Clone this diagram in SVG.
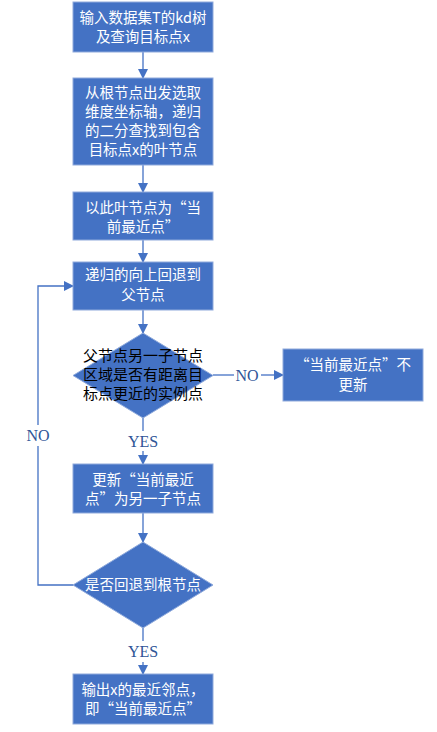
<svg xmlns="http://www.w3.org/2000/svg" width="437" height="732" viewBox="0 0 437 732">
<defs>
<marker id="ah" markerWidth="10" markerHeight="10" refX="9" refY="5" orient="auto" markerUnits="userSpaceOnUse">
<path d="M0,0 L10,5 L0,10 Z" fill="#4472C4"/>
</marker>
<style>
.box{fill:#4472C4;stroke:#8FAADC;stroke-width:1}
.t{font-family:"Noto Sans CJK SC","Microsoft YaHei",sans-serif;font-size:14.5px;fill:#FFFFFF;text-anchor:middle}
.tb{font-family:"Noto Sans CJK SC",sans-serif;font-size:15px;fill:#000000;text-anchor:middle}
.lbl{font-family:"Liberation Serif","Times New Roman",serif;font-size:16px;fill:#2F5597;text-anchor:middle}
.c{fill:none;stroke:#4472C4;stroke-width:1.3}
</style>
</defs>
<rect width="437" height="732" fill="#FFFFFF"/>
<g id="connectors">
<line class="c" x1="143" y1="52" x2="143" y2="78" marker-end="url(#ah)"/>
<line class="c" x1="143" y1="165" x2="143" y2="192" marker-end="url(#ah)"/>
<line class="c" x1="143" y1="240" x2="143" y2="262" marker-end="url(#ah)"/>
<line class="c" x1="143" y1="310" x2="143" y2="333" marker-end="url(#ah)"/>
<polyline class="c" points="213,375 234,375"/>
<polyline class="c" points="261,375 283,375" marker-end="url(#ah)"/>
<line class="c" x1="143" y1="418" x2="143" y2="431"/>
<line class="c" x1="143" y1="451" x2="143" y2="464" marker-end="url(#ah)"/>
<line class="c" x1="143" y1="513" x2="143" y2="542" marker-end="url(#ah)"/>
<polyline class="c" points="73,585 38,585 38,446"/>
<polyline class="c" points="38,425 38,286 73,286" marker-end="url(#ah)"/>
<line class="c" x1="143" y1="628" x2="143" y2="641"/>
<line class="c" x1="143" y1="662" x2="143" y2="674" marker-end="url(#ah)"/>
<text class="lbl" x="247" y="381">NO</text>
<text class="lbl" x="38" y="441">NO</text>
<text class="lbl" x="143" y="447">YES</text>
<text class="lbl" x="143" y="657">YES</text>
</g>
<g id="n1">
<rect class="box" x="73" y="2" width="140" height="50"/>
<text class="t" x="143" y="23">输入数据集T的kd树</text>
<text class="t" x="143" y="42">及查询目标点x</text>
</g>
<g id="n2">
<rect class="box" x="73" y="78" width="140" height="87"/>
<text class="t" x="143" y="98">从根节点出发选取</text>
<text class="t" x="143" y="117">维度坐标轴，递归</text>
<text class="t" x="143" y="136">的二分查找到包含</text>
<text class="t" x="143" y="155">目标点x的叶节点</text>
</g>
<g id="n3">
<rect class="box" x="73" y="192" width="140" height="48"/>
<text class="t" x="143" y="213">以此叶节点为“当</text>
<text class="t" x="143" y="232">前最近点”</text>
</g>
<g id="n4">
<rect class="box" x="73" y="262" width="140" height="48"/>
<text class="t" x="143" y="280">递归的向上回退到</text>
<text class="t" x="143" y="300">父节点</text>
</g>
<g id="d1">
<polygon class="box" points="143,333 213,375.5 143,418 73,375.5" stroke="none"/>
<text class="tb" x="143" y="361">父节点另一子节点</text>
<text class="tb" x="143" y="380">区域是否有距离目</text>
<text class="tb" x="143" y="399">标点更近的实例点</text>
</g>
<g id="n5">
<rect class="box" x="283" y="349" width="140" height="52"/>
<text class="t" x="353" y="370">“当前最近点”不</text>
<text class="t" x="353" y="390">更新</text>
</g>
<g id="n6">
<rect class="box" x="73" y="464" width="140" height="49"/>
<text class="t" x="143" y="485">更新“当前最近</text>
<text class="t" x="143" y="504">点”为另一子节点</text>
</g>
<g id="d2">
<polygon class="box" points="143,542 213,585 143,628 73,585" stroke="none"/>
<text class="t" x="143" y="590">是否回退到根节点</text>
</g>
<g id="n7">
<rect class="box" x="73" y="674" width="140" height="50"/>
<text class="t" x="143" y="695">输出x的最近邻点，</text>
<text class="t" x="143" y="714">即“当前最近点”</text>
</g>
</svg>
